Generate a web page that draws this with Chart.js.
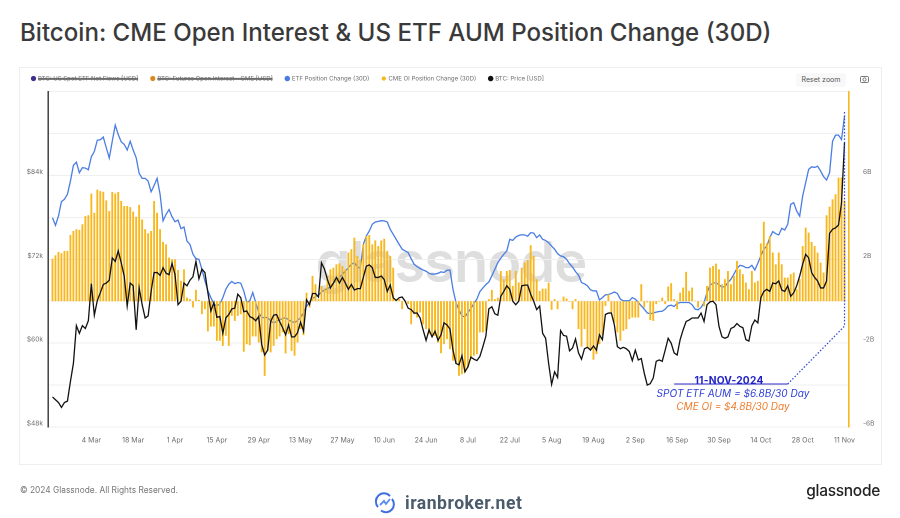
<!DOCTYPE html>
<html><head><meta charset="utf-8">
<script src="https://cdn.jsdelivr.net/npm/chart.js@4"></script>
<style>
html,body{margin:0;padding:0;background:#fff;width:900px;height:518px;overflow:hidden;font-family:Inter,"Noto Sans",sans-serif}
.a{position:absolute;white-space:nowrap}
#title{left:20px;top:19px;font-size:24.1px;font-weight:500;color:#3a3a3a;line-height:28px}
#card{left:19px;top:67px;width:861px;height:396px;border:1px solid #eeeeee;box-sizing:content-box}
#wm{left:451px;top:262px;transform:translate(-50%,-50%);font-size:56px;font-weight:600;color:#dedede;line-height:70px;letter-spacing:-1px}
canvas{position:absolute;left:0;top:0}
#reset{left:796px;top:73px;width:50px;height:14px;background:#f8f8f8;border-radius:3px;text-align:center;font-size:7px;line-height:14px;color:#555}
#cam{left:860px;top:75px}
.an{transform:translateX(-50%);line-height:14px}
#an1{left:729px;top:373px;font-size:10.2px;font-weight:700;color:#2222c4;letter-spacing:.2px}
#an2{left:733px;top:386px;font-size:10.1px;font-style:italic;color:#2f3fd8}
#an3{left:733px;top:399px;font-size:10px;font-style:italic;color:#ee7d2e}
#copy{left:20px;top:484px;font-size:8.35px;color:#777;line-height:12px}
#ib{left:405px;top:493px;font-family:Roboto,sans-serif;font-size:17.6px;font-weight:700;color:#4b5b6b;line-height:20px;letter-spacing:.5px}
#ibl{left:374px;top:492px}
#gn{right:20px;top:481px;font-size:15.5px;font-weight:500;color:#222;line-height:20px;letter-spacing:-.3px}
</style></head><body>
<div class="a" id="title">Bitcoin: CME Open Interest &amp; US ETF AUM Position Change (30D)</div>
<div class="a" id="card"></div>
<div class="a" id="wm">glassnode</div>
<canvas id="c" width="900" height="518"></canvas>
<div class="a" id="reset">Reset zoom</div>
<svg class="a" id="cam" width="9" height="8" viewBox="0 0 9 8"><rect x=".5" y="1.5" width="8" height="6" rx="1" fill="none" stroke="#555" stroke-width=".8"/><circle cx="4.5" cy="4.5" r="1.6" fill="none" stroke="#555" stroke-width=".8"/></svg>
<div class="a an" id="an1">11-NOV-2024</div>
<div class="a an" id="an2">SPOT ETF AUM = $6.8B/30 Day</div>
<div class="a an" id="an3">CME OI = $4.8B/30 Day</div>
<div class="a" id="copy">© 2024 Glassnode. All Rights Reserved.</div>
<svg class="a" id="ibl" width="22" height="22" viewBox="0 0 22 22"><path d="M4 15A8 8 0 0 1 16 4" fill="none" stroke="#3f6fe0" stroke-width="2"/><path d="M18 7A8 8 0 0 1 7 18.500" fill="none" stroke="#3f6fe0" stroke-width="2"/><path d="M6 13l4-4 2 3 4-5" fill="none" stroke="#5b8cf0" stroke-width="1.800"/></svg>
<div class="a" id="ib">iranbroker.net</div>
<div class="a" id="gn">glassnode</div>
<script>
const tickLabels=["4 Mar","18 Mar","1 Apr","15 Apr","29 Apr","13 May","27 May","10 Jun","24 Jun","8 Jul","22 Jul","5 Aug","19 Aug","2 Sep","16 Sep","30 Sep","14 Oct","28 Oct","11 Nov"];
const monthNames=["Jan","Feb","Mar","Apr","May","Jun","Jul","Aug","Sep","Oct","Nov","Dec"];
const categories=[];
for(let d=new Date(Date.UTC(2024,1,19));d<=new Date(Date.UTC(2024,10,12));d=new Date(d.getTime()+864e5)){categories.push(d.getUTCDate()+" "+monthNames[d.getUTCMonth()]);}

const etfChange=[3.98,3.62,4.06,4.75,4.86,5.10,5.73,6.48,6.63,6.13,6.37,6.35,6.27,6.89,7.14,7.68,7.70,7.83,7.32,6.83,7.63,8.40,7.95,7.60,7.48,7.21,7.63,7.21,6.84,6.10,5.86,5.86,5.73,5.22,5.52,5.86,5.10,3.83,4.14,4.37,4.03,3.79,3.87,3.46,3.54,2.87,2.71,2.24,2.03,2.00,1.52,0.97,0.49,0.17,-0.14,-0.22,-0.14,0.17,0.57,0.81,0.94,0.84,0.89,0.86,0.49,-0.06,0.02,0.41,-0.06,-0.54,-0.78,-0.78,-0.78,-0.94,-1.05,-0.95,-0.89,-0.83,-0.78,-0.89,-0.97,-1.02,-0.92,-0.79,-0.54,-0.25,-0.03,0.13,0.21,0.29,0.44,0.54,0.60,0.68,0.89,0.97,1.13,1.29,1.44,1.60,1.76,1.84,1.65,1.56,2.71,3.11,3.35,3.67,3.78,3.81,3.84,3.83,3.78,3.43,3.19,2.95,2.71,2.48,2.40,2.32,2.03,1.76,1.65,1.56,1.49,1.43,1.33,1.29,1.30,1.33,1.40,1.37,1.48,1.48,0.57,-0.06,-0.41,-0.70,-0.75,-0.54,-0.35,-0.11,0.10,0.46,0.63,0.79,0.92,1.21,1.52,1.84,2.05,2.24,2.40,2.95,2.90,3.06,3.14,3.17,3.16,3.10,3.27,3.25,3.03,3.16,2.95,2.90,2.79,2.63,2.48,2.27,2.16,2.12,2.00,1.79,1.63,1.41,1.24,0.89,0.83,0.73,0.54,0.49,0.49,0.06,0.17,0.30,0.32,0.37,0.44,0.37,0.10,0.02,0.02,0.02,0.17,0.10,-0.06,-0.22,-0.38,-0.56,-0.60,-0.56,-0.52,-0.49,-0.48,-0.38,-0.22,-0.19,-0.25,-0.11,-0.06,-0.06,-0.06,-0.06,-0.17,-0.38,-0.41,-0.30,-0.06,0.41,0.76,0.86,0.89,0.78,0.67,0.70,0.89,1.05,1.29,1.56,1.71,1.68,1.60,1.60,1.71,1.49,1.81,2.16,2.48,2.63,3.03,3.32,3.22,3.16,3.48,3.40,3.67,4.62,4.70,4.30,4.06,5.02,5.65,6.29,6.41,6.38,6.44,6.21,5.94,5.78,6.13,7.63,7.92,7.92,7.71,8.83];

const cmeChange=[2.03,2.19,2.35,2.29,2.40,2.40,3.16,3.35,3.43,3.40,3.67,4.06,4.10,5.13,4.22,5.32,5.25,5.22,4.81,4.30,5.21,5.14,5.21,4.78,4.54,4.54,4.49,4.27,4.03,4.60,3.90,3.43,3.24,3.35,4.78,4.22,3.43,2.83,2.71,2.08,2.00,2.00,1.49,0.97,1.52,0.17,0.10,-0.30,0.54,0.06,-0.62,-0.38,-1.44,-1.21,-1.21,-1.89,-1.89,-2.13,-1.65,-2.13,-0.70,-0.94,-0.70,-0.62,-2.41,-2.05,-2.10,-1.68,-1.68,-1.97,-2.44,-3.56,-2.37,-2.44,-2.13,-1.81,-1.68,-1.49,-2.49,-1.57,-2.37,-2.60,-1.97,-1.33,-1.62,0.41,-0.30,1.21,0.81,0.10,0.73,0.60,1.21,1.52,1.60,1.76,1.81,1.68,1.52,2.32,2.48,3.03,2.16,2.00,2.71,3.11,3.16,2.71,2.90,2.63,2.90,2.98,2.40,2.16,1.60,0.10,0.10,-0.38,0.02,-0.14,-1.10,-0.62,-0.78,-0.54,-1.10,-1.33,-1.57,-1.65,-1.65,-1.97,-2.48,-2.05,-1.81,-2.29,-2.84,-3.00,-3.56,-3.48,-3.40,-3.16,-2.76,-2.60,-2.52,-1.49,-1.49,-1.41,0.10,0.54,0.10,0.17,1.44,1.05,1.44,1.49,0.73,1.44,0.89,1.60,1.84,1.97,2.67,2.16,1.05,0.49,0.60,0.60,0.89,-0.41,0.10,-0.38,0.02,0.22,0.13,-0.03,-0.38,0.10,-1.33,-2.17,-1.33,-2.17,-2.29,-2.79,-2.52,-2.05,-1.65,-0.22,0.33,-0.54,-1.02,-1.49,-1.89,-1.41,-1.33,-0.86,-0.78,-0.78,-0.78,0.81,-0.30,-0.06,-0.90,-0.94,-0.14,-0.03,0.17,-0.14,0.70,0.86,0.10,-0.38,0.41,0.65,1.40,0.49,0.65,0.02,-0.30,0.02,-0.25,0.73,1.60,1.68,1.79,1.52,0.81,1.05,1.44,0.81,1.21,1.92,1.52,1.29,0.89,0.57,1.44,0.89,0.97,2.76,3.79,2.76,3.11,2.32,1.76,2.32,1.76,1.13,1.13,1.29,1.37,0.57,1.05,2.63,3.51,3.27,2.83,2.63,2.32,1.84,1.37,4.10,4.51,4.86,5.10,5.89,5.90,4.80];

const btcPrice=[52.3,51.9,51.5,50.8,51.5,51.7,54.5,57.1,62.5,61.4,62.5,62.1,63.2,68.5,64.0,66.1,67.2,68.4,68.6,69.0,72.2,71.7,73.2,71.5,69.6,65.3,68.6,68.2,61.9,67.9,65.5,63.6,63.9,67.4,70.1,70.1,69.7,70.8,70.0,69.8,71.4,69.8,65.5,66.0,68.6,68.2,69.0,69.5,71.7,69.2,70.6,70.1,67.2,64.6,65.8,63.7,63.8,61.4,63.6,64.1,64.9,65.0,67.0,66.5,64.5,64.6,63.8,63.6,63.2,63.8,59.8,58.3,59.0,63.1,64.0,64.1,63.1,62.2,61.2,62.6,60.9,60.9,61.5,63.0,61.7,66.2,65.5,67.1,67.1,66.6,71.5,70.6,69.1,67.9,68.6,69.4,68.6,69.4,68.6,67.7,68.4,67.6,67.8,67.8,69.4,71.0,71.2,70.8,69.4,69.4,69.6,69.1,67.4,68.3,66.5,66.1,66.5,66.6,66.0,65.0,64.8,64.3,64.3,63.6,61.9,60.4,61.9,60.9,61.7,60.4,61.2,62.9,62.6,62.0,59.0,57.1,56.9,58.2,55.9,56.6,58.0,57.7,57.5,58.1,59.5,61.0,64.9,65.2,64.2,64.0,66.7,67.4,68.2,67.7,66.0,65.5,66.0,68.2,68.3,68.3,67.0,66.0,64.8,65.3,61.4,60.7,57.1,54.1,55.9,55.1,61.8,61.1,61.0,58.9,59.3,60.6,58.6,57.7,59.2,59.4,59.0,59.6,59.0,61.2,60.5,64.1,64.3,64.3,62.6,59.5,59.2,59.4,59.2,58.8,57.5,59.0,57.6,57.8,55.7,54.0,54.2,55.0,57.4,57.6,57.4,59.0,60.7,60.0,58.6,58.3,60.5,61.9,63.1,63.3,63.6,63.6,63.6,64.3,63.1,65.5,65.9,66.0,65.5,62.4,60.9,60.7,60.9,62.1,62.3,62.8,62.4,62.2,60.5,60.3,62.5,63.3,62.9,66.5,67.4,67.7,67.4,68.6,68.5,68.9,67.6,67.4,68.2,66.7,67.2,68.2,69.6,71.3,72.7,72.2,70.1,69.4,68.9,67.9,67.9,68.9,75.7,76.3,76.5,76.9,80.1,88.7];

const leftTicks=[48,60,72,84];
const rightTicks=[-6,-2,2,6];
const calloutUnderline=[{x:"15 Sep",y:-3.95},{x:"23 Oct",y:-3.95}];
const calloutDotted=[{x:"23 Oct",y:-3.95},{x:"11 Nov",y:-1.19},{x:"11 Nov",y:9.05}];

function pad(a){const o=[null,...a];while(o.length<categories.length)o.push(null);return o;}
const YEL='#f7b71d',BLUE='#4a7de2',GRID='#efefef',TXT='#6b6b6b';
const xf={family:'Inter',size:7},yf={family:'Inter',size:6.6};
new Chart(document.getElementById('c'),{
 data:{labels:categories,datasets:[
  {type:'line',label:'BTC: US Spot ETF Net Flows [USD]',data:[],hidden:true,borderColor:'#3f2f8f',backgroundColor:'#3f2f8f',yAxisID:'y1'},
  {type:'line',label:'BTC: Futures Open Interest - CME [USD]',data:[],hidden:true,borderColor:'#d98a1f',backgroundColor:'#d98a1f',yAxisID:'y1'},
  {type:'line',label:'ETF Position Change (30D)',data:pad(etfChange),borderColor:BLUE,backgroundColor:BLUE,borderWidth:1.3,pointRadius:0,yAxisID:'y1',order:4,spanGaps:false},
  {type:'bar',label:'CME OI Position Change (30D)',data:pad(cmeChange),backgroundColor:YEL,borderColor:YEL,barPercentage:.62,categoryPercentage:1,yAxisID:'y1',order:3},
  {type:'line',label:'BTC: Price [USD]',data:pad(btcPrice),borderColor:'#111',backgroundColor:'#111',borderWidth:1.3,pointRadius:0,yAxisID:'y',order:2},
  {type:'line',label:'callout1',data:calloutUnderline,borderColor:'#2a2ac8',borderWidth:1,pointRadius:0,yAxisID:'y1',order:1},
  {type:'line',label:'callout2',data:calloutDotted,borderColor:'#2a45d0',borderWidth:1.2,borderDash:[1.5,1.8],pointRadius:0,yAxisID:'y1',order:0}
 ]},
 options:{responsive:false,animation:false,devicePixelRatio:2,
  layout:{padding:{left:19,right:20,top:62.5,bottom:51}},
  plugins:{tooltip:{enabled:false},
   legend:{position:'top',align:'start',labels:{usePointStyle:true,pointStyle:'circle',boxWidth:3,boxHeight:3,padding:13,color:'#6b6b6b',font:{family:'Inter',size:6.05},
     sort:(a,b)=>a.datasetIndex-b.datasetIndex,
     filter:i=>!i.text.startsWith('callout')},onClick:null}},
  scales:{
   x:{type:'category',grid:{display:false},border:{display:false},
      afterFit(s){s.height=40;},
      ticks:{autoSkip:false,maxRotation:0,minRotation:0,padding:1,color:TXT,font:xf,
        callback(v){const l=this.getLabelForValue(v);return tickLabels.includes(l)?l:'';}}},
   y:{position:'left',min:48,max:96,afterFit(s){s.width=29;},
      grid:{color:GRID,lineWidth:1,drawTicks:false},border:{color:'#333',width:1.4},
      ticks:{stepSize:6,padding:5,color:TXT,font:yf,labelOffset:-3.5,autoSkip:false,
        callback:v=>leftTicks.includes(v)?'$'+v+'k':''}},
   y1:{position:'right',min:-6,max:10,afterFit(s){s.width=31;},
      grid:{display:false},border:{color:YEL,width:1.6},
      ticks:{stepSize:2,padding:6,color:TXT,font:yf,labelOffset:-3.5,autoSkip:false,
        callback:v=>rightTicks.includes(v)?v+'B':''}}
  }}
});
</script>
</body></html>
